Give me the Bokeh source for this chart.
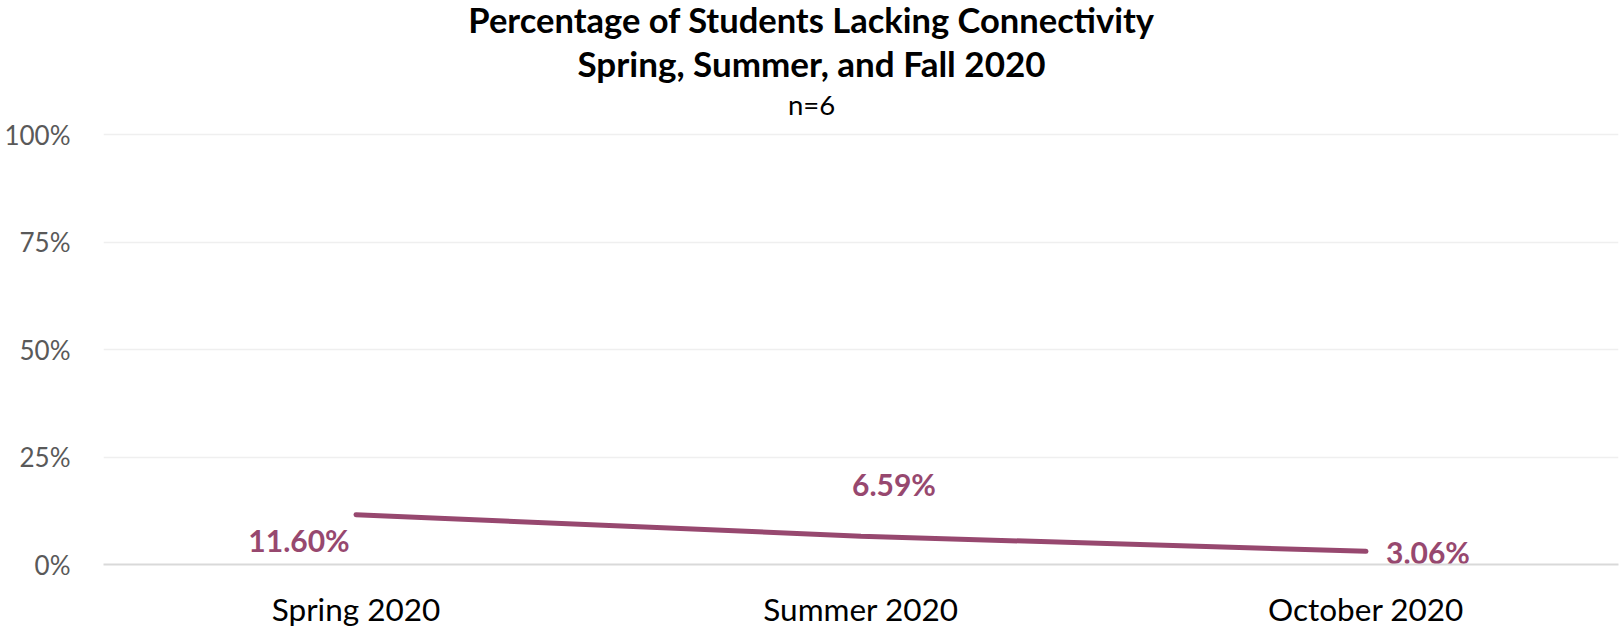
from bokeh.plotting import figure
from bokeh.models import Range1d, FixedTicker, PrintfTickFormatter
from bokeh.core.properties import value
from bokeh.embed import file_html
from bokeh.resources import INLINE

categories = ["Spring 2020", "Summer 2020", "October 2020"]
pct_values = [11.60, 6.59, 3.06]
value_labels = ["11.60%", "6.59%", "3.06%"]
y_ticks = [0, 25, 50, 75, 100]
title_lines = ["Percentage of Students Lacking Connectivity", "Spring, Summer, and Fall 2020", "n=6"]

LINE_COLOR = "#97486F"
FONT = "Lato"

# layout geometry (pixels)
W, H = 1621, 630
LEFT, RIGHT, BOTTOM = 103, 3, 63
ZERO_PX = H - BOTTOM            # canvas y of the 0% line
HUNDRED_PX = 135                # canvas y of the 100% line
PX_PER_PCT = (ZERO_PX - HUNDRED_PX) / 100.0
Y_TOP = ZERO_PX / PX_PER_PCT    # frame extends to the canvas top so titles can live inside it

p = figure(width=W, height=H, x_range=categories, y_range=Range1d(0, Y_TOP),
           output_backend="svg", toolbar_location=None, title=None,
           min_border_left=LEFT, min_border_right=RIGHT, min_border_top=0,
           min_border_bottom=BOTTOM)
p.outline_line_color = None
p.background_fill_color = "white"
p.border_fill_color = "white"

p.xgrid.grid_line_color = None
p.ygrid.ticker = FixedTicker(ticks=[25, 50, 75, 100])
p.ygrid.grid_line_color = "#efefef"
p.ygrid.grid_line_width = 1.5

p.yaxis.ticker = FixedTicker(ticks=y_ticks)
p.yaxis.formatter = PrintfTickFormatter(format="%d%%")
p.yaxis.axis_line_color = None
p.yaxis.major_tick_line_color = None
p.yaxis.minor_tick_line_color = None
p.yaxis.major_tick_in = 0
p.yaxis.major_tick_out = 0
p.yaxis.major_label_standoff = 33
p.yaxis.major_label_text_font = FONT
p.yaxis.major_label_text_font_size = "26px"
p.yaxis.major_label_text_color = "#595959"

p.xaxis.axis_line_color = "#d9d9d9"
p.xaxis.axis_line_width = 2
p.xaxis.major_tick_line_color = None
p.xaxis.minor_tick_line_color = None
p.xaxis.major_tick_in = 0
p.xaxis.major_tick_out = 0
p.xaxis.major_label_standoff = 25
p.xaxis.major_label_text_font = FONT
p.xaxis.major_label_text_font_size = "31.5px"
p.xaxis.major_label_text_color = "black"

p.line(x=categories, y=pct_values, line_color=LINE_COLOR, line_width=5, line_cap="round")

label_offsets = [(-57, 25), (33, -52), (62, 1)]
for cat, val, lbl, (dx, dy) in zip(categories, pct_values, value_labels, label_offsets):
    p.text(x=[cat], y=[val], text=[lbl], x_offset=dx, y_offset=dy,
           text_font=value(FONT), text_font_style="bold", text_font_size="30px",
           text_color=LINE_COLOR, text_align="center", text_baseline="middle")

# titles, drawn inside the (extended) frame; baselines given in canvas pixels
frame_center_px = LEFT + (W - LEFT - RIGHT) / 2.0
title_center_px = 811
mid_cat = categories[len(categories) // 2]
title_specs = [(title_lines[0], 19, "34.5px", "bold"),
               (title_lines[1], 63, "35px", "bold"),
               (title_lines[2], 105, "27.5px", "normal")]
for txt, base_px, size, style in title_specs:
    p.text(x=[mid_cat], y=[(ZERO_PX - base_px) / PX_PER_PCT], text=[txt],
           x_offset=title_center_px - frame_center_px,
           text_font=value(FONT), text_font_size=size, text_font_style=style,
           text_color="black", text_align="center", text_baseline="alphabetic")

open("out.html", "w").write(file_html(p, INLINE))
